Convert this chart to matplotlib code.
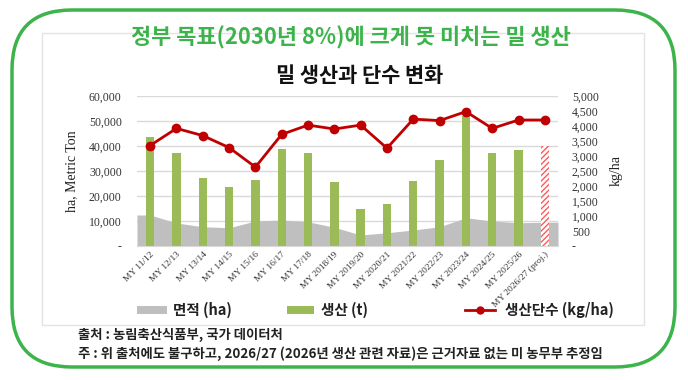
import matplotlib.pyplot as plt
from matplotlib.patches import FancyBboxPatch, Rectangle
from matplotlib.lines import Line2D
import numpy as np

plt.rcParams['font.family'] = ['Noto Sans CJK KR', 'DejaVu Sans']

# data
years = ['MY 11/12', 'MY 12/13', 'MY 13/14', 'MY 14/15', 'MY 15/16', 'MY 16/17',
         'MY 17/18', 'MY 2018/19', 'MY 2019/20', 'MY 2020/21', 'MY 2021/22',
         'MY 2022/23', 'MY 2023/24', 'MY 2024/25', 'MY 2025/26', 'MY 2026/27 (proj.)']
area_ha = [12400, 9200, 7700, 7300, 10000, 10400, 9700, 7500, 4400, 5300,
           6400, 7700, 11300, 10000, 9300, 9500]
production_t = [43700, 37100, 27100, 23600, 26300, 38700, 37400, 25800, 14900,
                16900, 26200, 34600, 52000, 37400, 38300, 40000]
yield_kg = [3350, 3920, 3680, 3280, 2630, 3720, 4030, 3900, 4030, 3260,
            4230, 4180, 4480, 3920, 4200, 4200]

GREEN = '#3cb44b'
BAR_GREEN = '#9bbb59'
AREA_GRAY = '#bfbfbf'
RED = '#c00000'
SERIF = 'Liberation Serif'

fig = plt.figure(figsize=(6.88, 3.8), dpi=100)

# background overlay in pixel coordinates
bg = fig.add_axes([0, 0, 1, 1], zorder=-1)
bg.set_xlim(0, 688)
bg.set_ylim(380, 0)
bg.axis('off')
bg.add_patch(Rectangle((42, 33), 602, 292, fill=False, ec='#e3e3e3', lw=1))
bg.add_patch(FancyBboxPatch((12, 10), 663, 357, boxstyle='round,pad=0,rounding_size=60',
                            fill=False, ec=GREEN, lw=2.5))

fig.text(351 / 688, 1 - 38 / 380, '정부 목표(2030년 8%)에 크게 못 미치는 밀 생산',
         color=GREEN, fontsize=15.8, fontweight='bold', ha='center', va='center')
fig.text(360 / 688, 1 - 76 / 380, '밀 생산과 단수 변화', color='#111111',
         fontsize=15, fontweight='bold', ha='center', va='center')

ax = fig.add_axes([137 / 688, 1 - 246 / 380, 421 / 688, 150 / 380])
ax.set_facecolor('none')
x = np.arange(len(years))

# area (ha) drawn across the full width
xa = np.concatenate([[-0.5], x, [len(years) - 0.5]])
ya = np.concatenate([[area_ha[0]], area_ha, [area_ha[-1]]])
ax.fill_between(xa, 0, ya, color=AREA_GRAY, lw=0, zorder=1)

ax.bar(x[:-1], production_t[:-1], width=0.32, color=BAR_GREEN, zorder=2)
ax.bar(x[-1], production_t[-1], width=0.32, facecolor='white', edgecolor='#ff5a5a',
       hatch='//////', lw=0, zorder=2)

ax.set_xlim(-0.5, len(years) - 0.5)
ax.set_ylim(0, 60000)
ax.set_yticks(range(0, 60001, 10000))
ax.set_yticklabels(['-'] + [f'{v:,}' for v in range(10000, 60001, 10000)],
                   fontfamily=SERIF, fontsize=8.5, color='#333333')
ax.grid(axis='y', color='#d9d9d9', lw=1, zorder=0)
ax.set_axisbelow(True)
for s in ['top', 'left', 'right']:
    ax.spines[s].set_visible(False)
ax.spines['bottom'].set_color('#d9d9d9')
ax.tick_params(length=0, pad=11)
ax.tick_params(axis='x', pad=3)
ax.set_xticks(x)
ax.set_xticklabels(years, rotation=45, ha='right', rotation_mode='anchor',
                   fontfamily=SERIF, fontsize=6.8, color='#333333')
ax.set_ylabel('ha, Metric Ton', fontfamily=SERIF, fontsize=10, color='#222222',
              labelpad=8)

ax2 = ax.twinx()
ax2.plot(x, yield_kg, color=RED, lw=2, marker='o', ms=6, zorder=3)
ax2.set_ylim(0, 5000)
ax2.set_yticks(range(0, 5001, 500))
ax2.set_yticklabels(['-'] + [f'{v:,}' for v in range(500, 5001, 500)],
                    fontfamily=SERIF, fontsize=8.5, color='#333333')
ax2.tick_params(length=0, pad=10)
for s in ['top', 'left', 'right', 'bottom']:
    ax2.spines[s].set_visible(False)
ax2.set_ylabel('kg/ha', fontfamily=SERIF, fontsize=10, color='#222222', labelpad=8)

# legend drawn by hand to match spacing
ly = 310
bg.add_patch(Rectangle((137, ly - 4), 30, 8, color=AREA_GRAY, lw=0))
bg.text(173, ly, '면적 (ha)', fontsize=10.5, fontweight='bold', color='#222222', va='center')
bg.add_patch(Rectangle((287, ly - 4), 27, 8, color=BAR_GREEN, lw=0))
bg.text(321, ly, '생산 (t)', fontsize=10.5, fontweight='bold', color='#222222', va='center')
bg.add_line(Line2D([465, 495], [ly, ly], color=RED, lw=2))
bg.add_line(Line2D([480], [ly], color=RED, marker='o', ms=5, lw=0))
bg.text(505, ly, '생산단수 (kg/ha)', fontsize=10.5, fontweight='bold', color='#222222',
        va='center')

bg.text(78, 335, '출처 : 농림축산식품부, 국가 데이터처', fontsize=9.6, fontweight='bold',
        color='#222222', va='center')
bg.text(78, 354, '주 : 위 출처에도 불구하고, 2026/27 (2026년 생산 관련 자료)은 근거자료 없는 미 농무부 추정임',
        fontsize=9.6, fontweight='bold', color='#222222', va='center')

fig.savefig('out.png', dpi=100)
